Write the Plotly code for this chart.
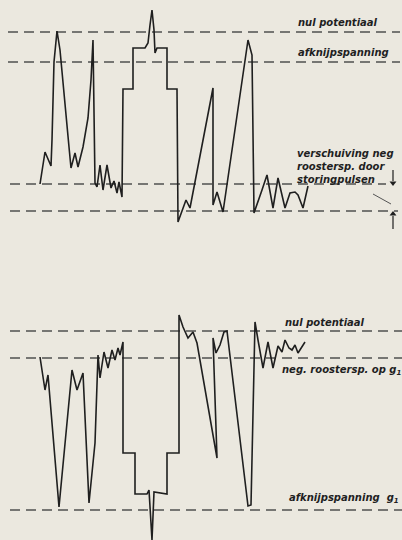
import plotly.graph_objects as go

# Drawing units: horizontal = time (left to right), vertical = level on the sheet
# (axis is reversed, so a smaller number sits higher on the page).

# Upper oscillogram: grid voltage with interference pulses
top_t = [40, 42, 45, 51, 52, 54, 57, 60, 64, 67, 69, 71, 75, 78, 83, 88, 91, 93,
         95, 97, 100, 103, 107, 111, 114, 117, 119, 122, 123, 133, 133, 145, 148,
         150, 152, 154, 155, 157, 167, 167, 177, 178, 182, 186, 190, 210, 213, 213,
         217, 223, 248, 252, 254, 262, 267, 273, 278, 285, 290, 295, 298, 303, 308]
top_v = [184, 170, 152, 166, 140, 62, 31, 50, 90, 125, 147, 168, 153, 167, 147, 118, 80, 40,
         183, 187, 165, 190, 165, 188, 181, 193, 182, 197, 89, 89, 48, 48, 43,
         25, 10, 30, 53, 48, 48, 89, 89, 222, 212, 200, 208, 107, 88, 205,
         192, 212, 40, 55, 213, 190, 175, 208, 178, 208, 193, 192, 195, 208, 186]

# Lower oscillogram: grid voltage on g1
bot_t = [40, 45, 48, 52, 59, 72, 77, 83, 89, 95, 98, 100, 104, 108, 112, 115, 118,
         120, 123, 123, 135, 135, 147, 149, 152, 154, 167, 167, 179, 179, 183, 188,
         193, 197, 217, 213, 216, 220, 224, 227, 248, 251, 255, 258, 263, 268, 273,
         278, 282, 285, 289, 292, 295, 298, 305]
bot_v = [357, 390, 375, 420, 507, 370, 390, 373, 503, 443, 355, 378, 352, 368, 350, 360, 348,
         355, 342, 453, 453, 494, 494, 490, 540, 492, 494, 453, 453, 315, 327, 338,
         332, 343, 458, 338, 353, 345, 332, 331, 506, 505, 322, 340, 368, 342, 368,
         346, 352, 340, 348, 350, 345, 353, 342]

# Reference levels (dashed)
top_levels = [32, 62, 184, 211]
bot_levels = [331, 358, 510]

top_labels = ["nul potentiaal", "afknijpspanning",
              "verschuiving neg<br>roostersp. door<br>storingpulsen"]
top_label_v = [22, 52, 166]
bot_labels = ["nul potentiaal", "neg. roostersp. op g<sub>1</sub>",
              "afknijpspanning  g<sub>1</sub>"]
bot_label_v = [322, 370, 498]

BG = "#ebe8df"
INK = "#1f1f1f"
DASH = "#505050"

fig = go.Figure()

# dashed reference levels
level_span = {32: (8, 400), 62: (8, 400), 184: (10, 386), 211: (10, 398),
              331: (10, 402), 358: (10, 402), 510: (10, 402)}
for lv in top_levels + bot_levels:
    x0, x1 = level_span[lv]
    fig.add_trace(go.Scatter(
        x=[x0, x1], y=[lv, lv], mode="lines",
        line=dict(color=DASH, width=1.3, dash="10px,6px"),
        hoverinfo="skip", showlegend=False))

# the two waveforms
for t, v in ((top_t, top_v), (bot_t, bot_v)):
    fig.add_trace(go.Scatter(
        x=t, y=v, mode="lines",
        line=dict(color=INK, width=1.6),
        hoverinfo="skip", showlegend=False))

font = dict(family="DejaVu Sans", size=10, color=INK)

label_x_top = [296, 296, 295]
for txt, y, x in zip(top_labels, top_label_v, label_x_top):
    fig.add_annotation(x=x, y=y, xref="x", yref="y", text=f"<b><i>{txt}</i></b>",
                       showarrow=False, xanchor="left", yanchor="middle",
                       align="left", font=font)

label_x_bot = [283, 280, 287]
for txt, y, x in zip(bot_labels, bot_label_v, label_x_bot):
    fig.add_annotation(x=x, y=y, xref="x", yref="y", text=f"<b><i>{txt}</i></b>",
                       showarrow=False, xanchor="left", yanchor="middle",
                       align="left", font=font)

# shift indicators on the right of the upper trace: down arrow, up arrow, leader
fig.add_trace(go.Scatter(x=[393, 393], y=[170, 181], mode="lines",
                         line=dict(color=INK, width=1.2),
                         hoverinfo="skip", showlegend=False))
fig.add_trace(go.Scatter(x=[393], y=[183], mode="markers",
                         marker=dict(symbol="triangle-down", size=6, color=INK),
                         hoverinfo="skip", showlegend=False))
fig.add_trace(go.Scatter(x=[393, 393], y=[229, 216], mode="lines",
                         line=dict(color=INK, width=1.2),
                         hoverinfo="skip", showlegend=False))
fig.add_trace(go.Scatter(x=[393], y=[214], mode="markers",
                         marker=dict(symbol="triangle-up", size=6, color=INK),
                         hoverinfo="skip", showlegend=False))
fig.add_trace(go.Scatter(x=[373, 391], y=[194, 204], mode="lines",
                         line=dict(color="#555555", width=1),
                         hoverinfo="skip", showlegend=False))

fig.update_xaxes(range=[0, 402], visible=False, fixedrange=True)
fig.update_yaxes(range=[540, 0], visible=False, fixedrange=True)
fig.update_layout(width=402, height=540, autosize=False,
                  margin=dict(l=0, r=0, t=0, b=0),
                  paper_bgcolor=BG, plot_bgcolor=BG)

fig.write_html("out.html", config={"displayModeBar": False})
